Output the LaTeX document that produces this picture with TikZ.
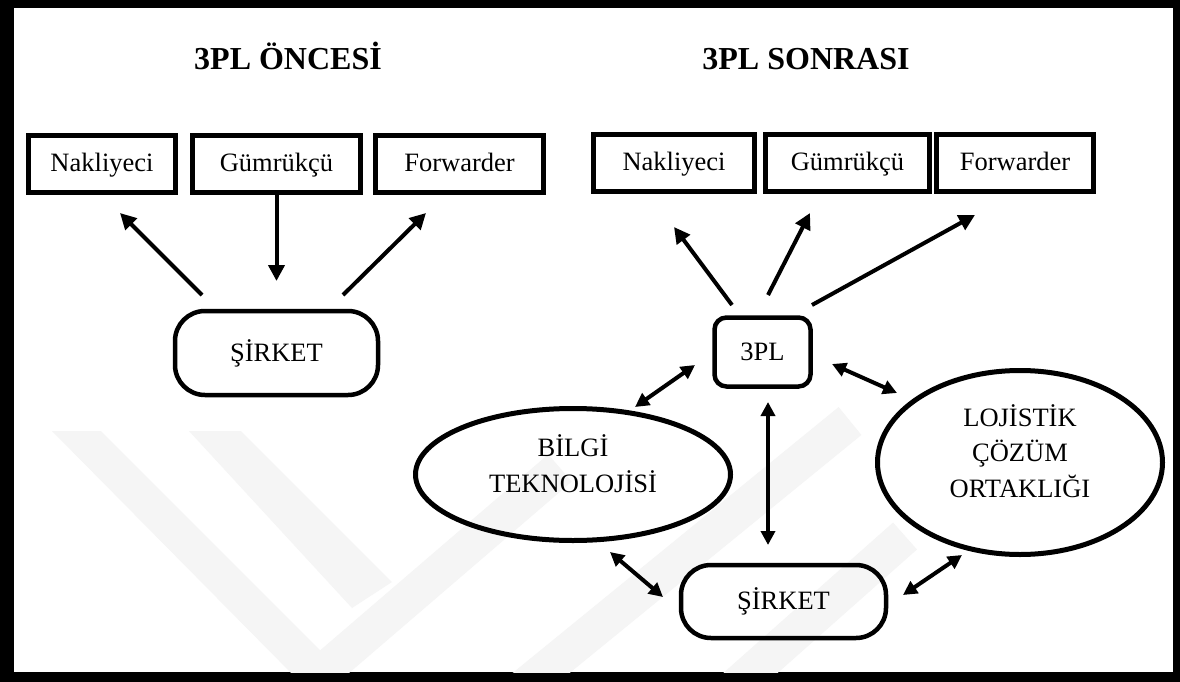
\documentclass[tikz,border=0pt]{standalone}
\usepackage{fontspec}
\setmainfont{Liberation Serif}
\usetikzlibrary{arrows.meta,shapes.geometric}

\tikzset{
  bodyfont/.style={font=\fontsize{26.5}{35.5}\selectfont},
  box/.style={draw, line width=5pt, minimum height=57pt, inner sep=0pt,
    bodyfont, text height=19pt, text depth=5pt},
  roundbox/.style={draw, line width=4.5pt, rounded corners=30pt, inner sep=0pt,
    bodyfont, text height=19pt, text depth=3pt},
  oval/.style={ellipse, draw, line width=5pt, inner sep=0pt, align=center, bodyfont},
  heading/.style={font=\bfseries\fontsize{32}{38}\selectfont, anchor=base, inner sep=0pt},
  oneway/.style={line width=4pt, -{Triangle[length=16pt,width=16pt]}},
  twoway/.style={line width=4pt,
    {Triangle[length=14pt,width=14pt]}-{Triangle[length=14pt,width=14pt]}},
  wm/.style={fill=black!4, draw=none},
  wmband/.style={draw=black!4, line width=36pt}
}

\begin{document}
\begin{tikzpicture}[x=1pt, y=-1pt]
\useasboundingbox (0,0) rectangle (1180,682);

% page frame
\fill[black] (0,0) rectangle (1180,682);
\fill[white] (14,8) rectangle (1173,672);

% faint emblem in the background
\begin{scope}
  \clip (14,8) rectangle (1173,672);
  \fill[wm] (52,431) -- (101,431) -- (352,682) -- (300,682) -- cycle;
  \fill[wm] (189,431) -- (241,431) -- (392,582) -- (352,608) -- cycle;
  \draw[wmband] (290,700) -- (560,468);
  \draw[wmband] (508,700) -- (850,421);
  \draw[wmband] (720,700) -- (905,536);
\end{scope}

% headings
\node[heading] (tL) at (288,70) {3PL ÖNCESİ};
\node[heading] (tR) at (806,70) {3PL SONRASI};

% before: partner boxes
\node[box, minimum width=147pt] (nL) at (102,164) {Nakliyeci};
\node[box, minimum width=168pt] (gL) at (276.5,164) {Gümrükçü};
\node[box, minimum width=168pt] (fL) at (459.5,164) {Forwarder};

% after: partner boxes
\node[box, minimum width=161pt] (nR) at (674,163) {Nakliyeci};
\node[box, minimum width=164pt] (gR) at (847.5,163) {Gümrükçü};
\node[box, minimum width=157pt] (fR) at (1015,163) {Forwarder};

% companies and the 3PL provider
\node[roundbox, minimum width=203pt, minimum height=84pt] (sL) at (276.5,353) {ŞİRKET};
\node[roundbox, rounded corners=12pt, minimum width=96pt, minimum height=69pt] (tpl) at (762.5,352) {3PL};
\node[roundbox, minimum width=205pt, minimum height=73pt] (sR) at (783.5,601.5) {ŞİRKET};

% ovals (text box height/depth set so the lines sit at the oval centre)
\node[oval, minimum width=315pt, minimum height=132pt, text height=45pt, text depth=10pt] (bt) at (573,474.5) {BİLGİ\\TEKNOLOJİSİ};
\node[oval, minimum width=285pt, minimum height=184pt, text height=79pt, text depth=10pt] (lc) at (1020,462.5) {LOJİSTİK\\ÇÖZÜM\\ORTAKLIĞI};

% arrow end points
\coordinate (a1s) at (202,295); \coordinate (a1e) at (120,213);
\coordinate (a2e) at (276.5,281);
\coordinate (a3s) at (343,295); \coordinate (a3e) at (426,213);
\coordinate (b1s) at (732,305); \coordinate (b1e) at (674,227);
\coordinate (b2s) at (768,295); \coordinate (b2e) at (810,213);
\coordinate (b3s) at (812,305); \coordinate (b3e) at (975,215);
\coordinate (c1s) at (635,407); \coordinate (c1e) at (695,365);
\coordinate (c2s) at (832,364); \coordinate (c2e) at (897,393);
\coordinate (c3s) at (768,402); \coordinate (c3e) at (768,545);
\coordinate (c4s) at (610,552); \coordinate (c4e) at (663,597);
\coordinate (c5s) at (903,595); \coordinate (c5e) at (962,555);

% before
\draw[oneway] (a1s) -- (a1e);
\draw[oneway] (gL.south) -- (a2e);
\draw[oneway] (a3s) -- (a3e);

% after
\draw[oneway] (b1s) -- (b1e);
\draw[oneway] (b2s) -- (b2e);
\draw[oneway] (b3s) -- (b3e);
\draw[twoway] (c1s) -- (c1e);
\draw[twoway] (c2s) -- (c2e);
\draw[twoway] (c3s) -- (c3e);
\draw[twoway] (c4s) -- (c4e);
\draw[twoway] (c5s) -- (c5e);
\end{tikzpicture}
\end{document}
